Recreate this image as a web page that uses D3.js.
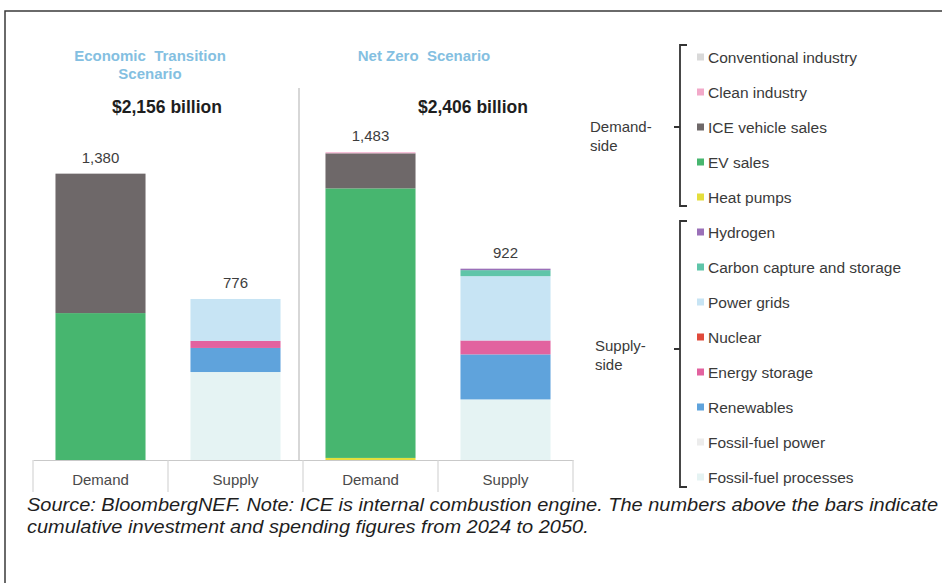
<!DOCTYPE html>
<html>
<head>
<meta charset="utf-8">
<script src="https://cdn.jsdelivr.net/npm/d3@7/dist/d3.min.js"></script>
<style>
  html, body { margin: 0; padding: 0; background: #fff; }
  svg { display: block; font-family: "Liberation Sans", Arial, sans-serif; }
</style>
</head>
<body>
<svg id="chart" width="942" height="583"></svg>
<script>
// Bars, left to right, and their axis labels
const barIds = ["ets-demand", "ets-supply", "nz-demand", "nz-supply"];
const categories = ["Demand", "Supply", "Demand", "Supply"];
const barTotals = [1380, 776, 1483, 922];

// Scenario headings and cumulative totals ($ billion)
const scenarioTitles = [["Economic  Transition", "Scenario"], ["Net Zero  Scenario"]];
const scenarioTotals = ["$2,156 billion", "$2,406 billion"];

// Series values per bar ($ billion, 2024-2050)
const conventionalIndustry = [0, 0, 0, 0];
const cleanIndustry        = [0, 0, 5, 0];
const iceVehicleSales      = [672, 0, 169, 0];
const evSales              = [708, 0, 1299, 0];
const heatPumps            = [0, 0, 10, 0];
const hydrogen             = [0, 0, 0, 7];
const carbonCapture        = [0, 0, 0, 29];
const powerGrids           = [0, 202, 0, 310];
const nuclear              = [0, 0, 0, 0];
const energyStorage        = [0, 34, 0, 67];
const renewables           = [0, 116, 0, 217];
const fossilFuelPower      = [0, 0, 0, 0];
const fossilFuelProcesses  = [0, 424, 0, 292];

// Legend order (top to bottom); stacking runs the other way
const seriesNames = [
  "Conventional industry", "Clean industry", "ICE vehicle sales", "EV sales", "Heat pumps",
  "Hydrogen", "Carbon capture and storage", "Power grids", "Nuclear", "Energy storage",
  "Renewables", "Fossil-fuel power", "Fossil-fuel processes"
];
const seriesValues = [
  conventionalIndustry, cleanIndustry, iceVehicleSales, evSales, heatPumps,
  hydrogen, carbonCapture, powerGrids, nuclear, energyStorage,
  renewables, fossilFuelPower, fossilFuelProcesses
];
const seriesColors = [
  "#d9d9d9", "#f2a9c9", "#6e6869", "#47b66f", "#e4de3c",
  "#9a70b8", "#5fc5a9", "#c7e4f4", "#e04a3b", "#e2629f",
  "#5fa3dc", "#ececec", "#e5f3f3"
];
const demandSideLabel = ["Demand-", "side"];
const supplySideLabel = ["Supply-", "side"];
const sourceLines = [
  "Source: BloombergNEF. Note: ICE is internal combustion engine. The numbers above the bars indicate",
  "cumulative investment and spending figures from 2024 to 2050."
];

const svg = d3.select("#chart");

// Outer frame (top and left rules)
svg.append("path")
  .attr("d", "M5,583 L5,11 L942,11")
  .attr("fill", "none").attr("stroke", "#3a3a3a").attr("stroke-width", 1.5);

// Build rows for stacking
const rows = barIds.map((id, i) => {
  const r = { id };
  seriesNames.forEach((n, k) => { r[n] = seriesValues[k][i]; });
  return r;
});
const stackKeys = seriesNames.slice().reverse();
const stacked = d3.stack().keys(stackKeys)(rows);
const colorOf = d3.scaleOrdinal().domain(seriesNames).range(seriesColors);

const x = d3.scaleBand().domain(barIds).range([33, 573]).paddingInner(0.333).paddingOuter(0.1665);
const y = d3.scaleLinear().domain([0, 2000]).range([460, 45]);

// Divider between scenarios
svg.append("line")
  .attr("x1", x.range()[0] + x.step() * 2 - 4).attr("x2", x.range()[0] + x.step() * 2 - 4)
  .attr("y1", 88).attr("y2", y(0))
  .attr("stroke", "#bdbdbd").attr("stroke-width", 1.2);

// Stacked bars
svg.append("g").selectAll("g")
  .data(stacked)
  .join("g")
  .attr("fill", d => colorOf(d.key))
  .selectAll("rect")
  .data(d => d)
  .join("rect")
  .attr("x", d => x(d.data.id))
  .attr("width", x.bandwidth())
  .attr("y", d => y(d[1]))
  .attr("height", d => Math.max(0, y(d[0]) - y(d[1])));

// Bar totals
svg.append("g").selectAll("text")
  .data(barIds)
  .join("text")
  .attr("x", d => x(d) + x.bandwidth() / 2)
  .attr("y", (d, i) => y(barTotals[i]) - 11)
  .attr("text-anchor", "middle")
  .attr("font-size", 15).attr("fill", "#3d3d3d")
  .text((d, i) => d3.format(",")(barTotals[i]));

// Category axis as a row of cells
const axis = d3.axisBottom(x).tickSize(0).tickPadding(14)
  .tickFormat((d, i) => categories[i]);
const axisG = svg.append("g").attr("transform", `translate(0,${y(0)})`).call(axis);
axisG.select(".domain").attr("stroke", "#c9c9c9").attr("stroke-width", 1.2);
axisG.selectAll("text").attr("font-size", 15).attr("fill", "#4a4a4a")
  .attr("font-family", "Liberation Sans, Arial, sans-serif");
const cellEdges = d3.range(barIds.length + 1).map(i => x.range()[0] + i * x.step());
axisG.selectAll(".cell")
  .data(cellEdges)
  .join("line")
  .attr("class", "cell")
  .attr("x1", d => d).attr("x2", d => d)
  .attr("y1", 0).attr("y2", 32)
  .attr("stroke", "#d6d6d6").attr("stroke-width", 1.2);

// Scenario headings
const headX = [150, 424];
scenarioTitles.forEach((lines, s) => {
  lines.forEach((t, j) => {
    svg.append("text")
      .attr("x", headX[s]).attr("y", 61 + j * 18)
      .attr("text-anchor", "middle")
      .attr("font-size", 15).attr("font-weight", "bold")
      .attr("fill", "#84bfe1")
      .style("white-space", "pre")
      .text(t);
  });
});
const totalX = [167, 473];
scenarioTotals.forEach((t, s) => {
  svg.append("text")
    .attr("x", totalX[s]).attr("y", 113)
    .attr("text-anchor", "middle")
    .attr("font-size", 17.5).attr("font-weight", "bold")
    .attr("fill", "#1e1e1e")
    .text(t);
});

// Legend
const legendRow = d3.scalePoint().domain(seriesNames).range([57, 477]);
const legend = svg.append("g");
legend.selectAll("rect")
  .data(seriesNames)
  .join("rect")
  .attr("x", 697).attr("y", d => legendRow(d) - 3.5)
  .attr("width", 7).attr("height", 7)
  .attr("fill", d => colorOf(d));
legend.selectAll("text")
  .data(seriesNames)
  .join("text")
  .attr("x", 708).attr("y", d => legendRow(d) + 5.5)
  .attr("font-size", 15.5).attr("fill", "#3a3a3a")
  .text(d => d);

// Group brackets
function bracket(top, bottom, mid) {
  const bx = 680;
  legend.append("path")
    .attr("d", `M${bx + 7},${top} L${bx},${top} L${bx},${bottom} L${bx + 7},${bottom} M${bx},${mid} L${bx - 6},${mid}`)
    .attr("fill", "none").attr("stroke", "#333").attr("stroke-width", 1.8);
}
bracket(45, 206, 127);
bracket(221, 487, 349);

function sideLabel(lines, lx, ly) {
  lines.forEach((t, j) => {
    legend.append("text")
      .attr("x", lx).attr("y", ly + j * 19)
      .attr("font-size", 15).attr("fill", "#3a3a3a")
      .text(t);
  });
}
sideLabel(demandSideLabel, 590, 132);
sideLabel(supplySideLabel, 595, 351);

// Source note
const src = svg.append("g");
const t1 = src.append("text").attr("x", 27).attr("y", 511)
  .attr("font-size", 18).attr("font-style", "italic").attr("fill", "#1e1e1e").text(sourceLines[0]);
const t2 = src.append("text").attr("x", 27).attr("y", 533)
  .attr("font-size", 18).attr("font-style", "italic").attr("fill", "#1e1e1e").text(sourceLines[1]);
const ratio = 911 / t1.node().getComputedTextLength();
t1.attr("textLength", 911).attr("lengthAdjust", "spacingAndGlyphs");
t2.attr("textLength", t2.node().getComputedTextLength() * ratio).attr("lengthAdjust", "spacingAndGlyphs");
</script>
</body>
</html>
